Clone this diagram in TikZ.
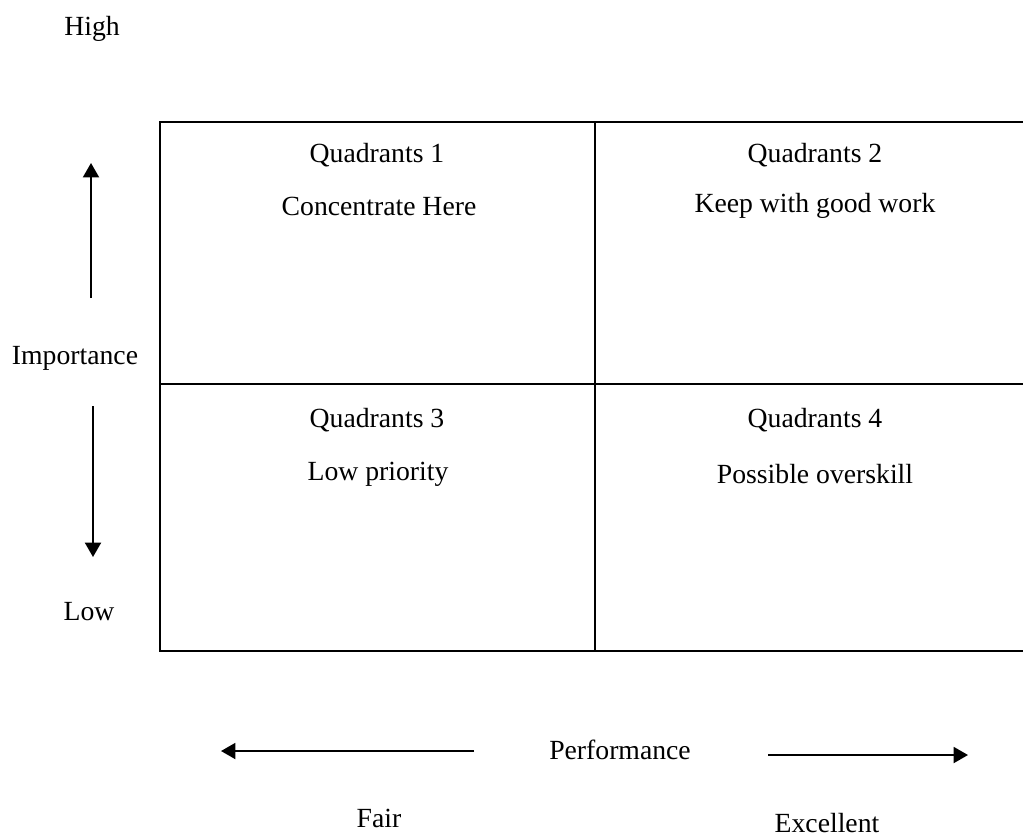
\documentclass[tikz,border=0pt]{standalone}
\usepackage{fontspec}
\setmainfont{Liberation Serif}
\usetikzlibrary{arrows.meta}
\tikzset{>={Triangle[length=0.36cm,width=0.4cm]}}
\tikzset{label/.style = {font=\fontsize{19.7}{23}\selectfont, inner sep=0pt}}
\tikzset{grid/.style = {line width=1.4pt}}
\tikzset{axis/.style = {->, line width=1.4pt}}

\begin{document}
\begin{tikzpicture}[x=0.025cm,y=-0.025cm]
            \useasboundingbox (0,0) rectangle (1023,838);

            % Grid
            \coordinate (tl) at (160,122);
            \coordinate (tr) at (1023,122);
            \coordinate (ml) at (160,384);
            \coordinate (mr) at (1023,384);
            \coordinate (bl) at (160,651);
            \coordinate (br) at (1023,651);
            \coordinate (tm) at (595,122);
            \coordinate (bm) at (595,651);
            \draw[grid] (tr) -- (tl) -- (bl) -- (br);
            \draw[grid] (ml) -- (mr);
            \draw[grid] (tm) -- (bm);

            % Quadrants
            \node[label] (q1) at (377,155) {Quadrants 1};
            \node[label] (q1t) at (379,206) {Concentrate Here};
            \node[label] (q2) at (815,155) {Quadrants 2};
            \node[label] (q2t) at (815,206) {Keep with good work};
            \node[label] (q3) at (377,420) {Quadrants 3};
            \node[label] (q3t) at (378,474) {Low priority};
            \node[label] (q4) at (815,420) {Quadrants 4};
            \node[label] (q4t) at (815,474) {Possible overskill};

            % Importance
            \node[label] (high) at (92,29) {High};
            \node[label] (imp) at (75,358) {Importance};
            \node[label] (low) at (89,612) {Low};
            \coordinate (upa) at (91,298);
            \coordinate (upb) at (91,163);
            \coordinate (dna) at (93,406);
            \coordinate (dnb) at (93,557);
            \draw[axis] (upa) -- (upb);
            \draw[axis] (dna) -- (dnb);

            % Performance
            \node[label] (perf) at (620,750) {Performance};
            \node[label] (fair) at (379,818) {Fair};
            \node[label] (exc) at (827,823) {Excellent};
            \coordinate (lfa) at (474,751);
            \coordinate (lfb) at (221,751);
            \coordinate (rta) at (768,755);
            \coordinate (rtb) at (968,755);
            \draw[axis] (lfa) -- (lfb);
            \draw[axis] (rta) -- (rtb);

\end{tikzpicture}
\end{document}
